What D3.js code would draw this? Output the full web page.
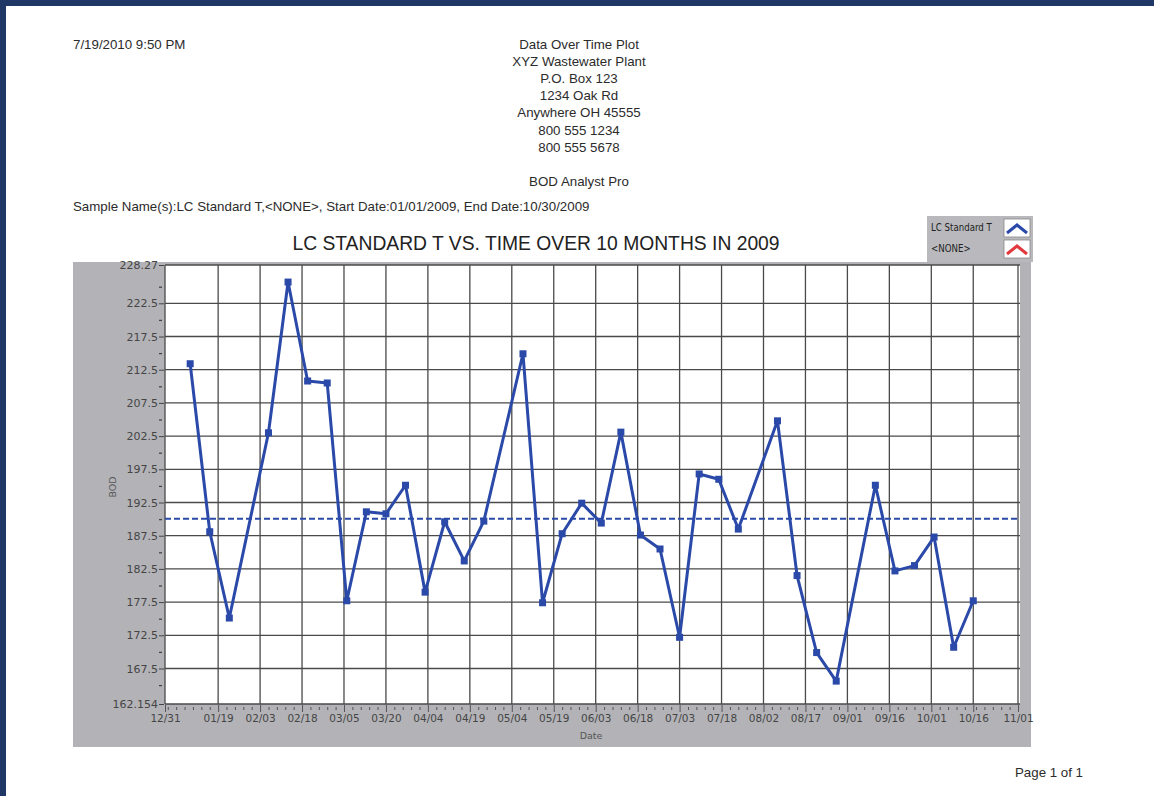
<!DOCTYPE html>
<html lang="en">
  <head>
    <meta charset="utf-8">
    <script src="https://d3js.org/d3.v7.min.js"></script>
    <title>Data Over Time Plot</title>
    <style>
      body {
        margin: 0;
        background-color: #fff;
      }
      svg {
        display: block;
        font-family: "Liberation Sans", Arial, sans-serif;
      }
      .hdr {
        font-size: 13.3px;
        fill: #2b2b2b;
      }
      .grid line {
        stroke: #4a4a4a;
        stroke-width: 1.3;
      }
    </style>
  </head>
  <body>
    <div class="chartHolder"></div>
    <script>
      // sample dates (2009) and BOD readings
      const sampleDates = ['2009-01-09', '2009-01-16', '2009-01-23', '2009-02-06', '2009-02-13', '2009-02-20',
        '2009-02-27', '2009-03-06', '2009-03-13', '2009-03-20', '2009-03-27', '2009-04-03', '2009-04-10',
        '2009-04-17', '2009-04-24', '2009-05-08', '2009-05-15', '2009-05-22', '2009-05-29', '2009-06-05',
        '2009-06-12', '2009-06-19', '2009-06-26', '2009-07-03', '2009-07-10', '2009-07-17', '2009-07-24',
        '2009-08-07', '2009-08-14', '2009-08-21', '2009-08-28', '2009-09-11', '2009-09-18', '2009-09-25',
        '2009-10-02', '2009-10-09', '2009-10-16'];
      const bodValues = [213.4, 188.1, 175.1, 203.0, 225.7, 210.8, 210.5, 177.7, 191.1, 190.8, 195.1, 179.0,
        189.6, 183.7, 189.7, 214.9, 177.4, 187.8, 192.4, 189.4, 203.1, 187.6, 185.5, 172.2, 196.8, 196.0,
        188.5, 204.8, 181.5, 169.9, 165.6, 195.1, 182.2, 183.0, 187.3, 170.7, 177.7];
      const meanValue = 190.05;

      const yDomain = [162.154, 228.27];
      const yMajorTicks = [162.154, 167.5, 172.5, 177.5, 182.5, 187.5, 192.5, 197.5, 202.5, 207.5, 212.5, 217.5, 222.5, 228.27];
      const yMinorTicks = [165, 170, 175, 180, 185, 190, 195, 200, 205, 210, 215, 220, 225];
      const xTicks = ['2008-12-31', '2009-01-19', '2009-02-03', '2009-02-18', '2009-03-05', '2009-03-20',
        '2009-04-04', '2009-04-19', '2009-05-04', '2009-05-19', '2009-06-03', '2009-06-18', '2009-07-03',
        '2009-07-18', '2009-08-02', '2009-08-17', '2009-09-01', '2009-09-16', '2009-10-01', '2009-10-16',
        '2009-11-01'];

      const headerLines = ['Data Over Time Plot', 'XYZ Wastewater Plant', 'P.O. Box 123', '1234 Oak Rd',
        'Anywhere OH 45555', '800 555 1234', '800 555 5678'];
      const legendNames = ['LC Standard T', '<NONE>'];
      const legendColors = ['#2a49a8', '#e0393e'];

      const W = 1154, H = 796;
      const plot = {left: 165, right: 1018, top: 265, bottom: 704};
      const blue = '#2a49a8';
      const tickFont = '"DejaVu Sans", Verdana, sans-serif';

      const parse = d3.utcParse('%Y-%m-%d');
      const data = sampleDates.map((d, i) => ({date: parse(d), value: bodValues[i]}));

      let svg = d3.select('.chartHolder')
        .append('svg')
        .attr('width', W)
        .attr('height', H);

      // page frame
      svg.append('rect').attr('x', 0).attr('y', 0).attr('width', W).attr('height', 6).attr('fill', '#1f3765');
      svg.append('rect').attr('x', 0).attr('y', 0).attr('width', 6).attr('height', H).attr('fill', '#1f3765');

      // header
      svg.append('text').attr('class', 'hdr').attr('x', 73).attr('y', 49).text('7/19/2010 9:50 PM');
      svg.selectAll('.hdr-c')
        .data(headerLines)
        .enter()
        .append('text')
          .attr('class', 'hdr')
          .attr('x', 579)
          .attr('y', (d, i) => 49 + i * 17.1)
          .attr('text-anchor', 'middle')
          .text(d => d);
      svg.append('text').attr('class', 'hdr').attr('x', 579).attr('y', 186)
        .attr('text-anchor', 'middle').text('BOD Analyst Pro');
      svg.append('text').attr('class', 'hdr').attr('x', 73).attr('y', 211)
        .text('Sample Name(s):LC Standard T,<NONE>, Start Date:01/01/2009, End Date:10/30/2009');
      svg.append('text').attr('class', 'hdr').attr('x', 1083).attr('y', 777)
        .attr('text-anchor', 'end').text('Page 1 of 1');

      // grey chart panel
      svg.append('rect')
        .attr('x', 73).attr('y', 262).attr('width', 958).attr('height', 485)
        .attr('fill', '#b3b3b7');
      svg.append('rect')
        .attr('x', plot.left).attr('y', plot.top)
        .attr('width', plot.right - plot.left + 2).attr('height', plot.bottom - plot.top)
        .attr('fill', '#fff');

      svg.append('text')
        .attr('x', 536).attr('y', 250)
        .attr('text-anchor', 'middle')
        .attr('font-size', 19.3)
        .attr('fill', '#222')
        .text('LC STANDARD T VS. TIME OVER 10 MONTHS IN 2009');

      // legend
      let legend = svg.append('g').attr('transform', 'translate(927, 216)');
      legend.append('rect').attr('width', 106).attr('height', 46).attr('fill', '#b9b9bd');
      legendNames.forEach((name, i) => {
        legend.append('text')
          .attr('x', 4).attr('y', 15 + i * 21)
          .attr('font-family', '"Liberation Sans Narrow", "DejaVu Sans Condensed", sans-serif')
          .attr('font-size', 9.6)
          .attr('fill', '#222')
          .text(name);
        legend.append('rect')
          .attr('x', 77).attr('y', 3 + i * 21).attr('width', 26).attr('height', 18)
          .attr('fill', '#fff').attr('stroke', '#888').attr('stroke-width', 0.8);
        legend.append('path')
          .attr('d', `M${80},${17 + i * 21} L${90},${9 + i * 21} L${100},${17 + i * 21}`)
          .attr('fill', 'none')
          .attr('stroke', legendColors[i])
          .attr('stroke-width', 3);
      });

      // scales
      let xScale = d3.scaleUtc()
        .domain([parse(xTicks[0]), parse(xTicks[xTicks.length - 1])])
        .range([plot.left, plot.right]);
      let yScale = d3.scaleLinear()
        .domain(yDomain)
        .range([plot.bottom, plot.top]);

      // grid
      let grid = svg.append('g').attr('class', 'grid');
      grid.selectAll('.gy')
        .data(yMajorTicks)
        .enter()
        .append('line')
          .attr('x1', plot.left).attr('x2', plot.right + 2)
          .attr('y1', d => yScale(d)).attr('y2', d => yScale(d));
      grid.selectAll('.gx')
        .data(xTicks.map(parse))
        .enter()
        .append('line')
          .attr('x1', d => xScale(d)).attr('x2', d => xScale(d))
          .attr('y1', plot.top).attr('y2', plot.bottom);

      // y axis
      let yAxis = d3.axisLeft(yScale)
        .tickValues(yMajorTicks)
        .tickSize(5)
        .tickFormat(d => String(d));
      let gy = svg.append('g')
        .attr('id', 'y-axis')
        .attr('transform', `translate(${plot.left - 1},0)`)
        .attr('font-family', tickFont)
        .attr('font-size', 11)
        .call(yAxis);
      gy.select('.domain').remove();
      gy.selectAll('line').attr('stroke', '#444');
      gy.selectAll('text').attr('x', -6).attr('fill', '#454545')
        .style('font-family', tickFont).style('font-size', '11px');
      let yMinor = d3.axisLeft(yScale).tickValues(yMinorTicks).tickSize(3).tickFormat('');
      let gym = svg.append('g')
        .attr('transform', `translate(${plot.left - 3},0)`)
        .call(yMinor);
      gym.select('.domain').remove();
      gym.selectAll('line').attr('stroke', '#444').attr('stroke-width', 1.3);

      // x axis
      let minorDates = [];
      for (let i = 0; i < xTicks.length - 1; i++) {
        let a = parse(xTicks[i]), b = parse(xTicks[i + 1]);
        let d = d3.utcDay.offset(b, -3);
        while (d > a) {
          minorDates.push(d);
          d = d3.utcDay.offset(d, -3);
        }
      }
      let xAxis = d3.axisBottom(xScale)
        .tickValues(xTicks.map(parse))
        .tickSize(7)
        .tickFormat(d3.utcFormat('%m/%d'));
      let gx = svg.append('g')
        .attr('id', 'x-axis')
        .attr('transform', `translate(0,${plot.bottom + 1})`)
        .call(xAxis);
      gx.select('.domain').remove();
      gx.selectAll('line').attr('stroke', '#555');
      gx.selectAll('text').attr('y', 10).attr('fill', '#454545')
        .style('font-family', tickFont).style('font-size', '10.5px');
      let xMinor = d3.axisBottom(xScale).tickValues(minorDates).tickSize(3).tickFormat('');
      let gxm = svg.append('g')
        .attr('transform', `translate(0,${plot.bottom + 3})`)
        .call(xMinor);
      gxm.select('.domain').remove();
      gxm.selectAll('line').attr('stroke', '#555');

      svg.append('text')
        .attr('x', 591).attr('y', 739)
        .attr('text-anchor', 'middle')
        .attr('fill', '#555')
        .style('font-family', tickFont).style('font-size', '9.5px')
        .text('Date');
      svg.append('text')
        .attr('transform', 'translate(116, 487) rotate(-90)')
        .attr('text-anchor', 'middle')
        .attr('fill', '#555')
        .style('font-family', tickFont).style('font-size', '9.5px')
        .text('BOD');

      // mean line
      svg.append('line')
        .attr('x1', plot.left).attr('x2', plot.right)
        .attr('y1', yScale(meanValue)).attr('y2', yScale(meanValue))
        .attr('stroke', blue)
        .attr('stroke-width', 2)
        .attr('stroke-dasharray', '6,3');

      // series
      let line = d3.line()
        .x(d => xScale(d.date))
        .y(d => yScale(d.value));
      svg.append('path')
        .datum(data)
        .attr('d', line)
        .attr('fill', 'none')
        .attr('stroke', blue)
        .attr('stroke-width', 3)
        .attr('stroke-linejoin', 'round');
      svg.selectAll('.pt')
        .data(data)
        .enter()
        .append('rect')
          .attr('class', 'pt')
          .attr('x', d => xScale(d.date) - 3.5)
          .attr('y', d => yScale(d.value) - 3.5)
          .attr('width', 7)
          .attr('height', 7)
          .attr('fill', blue);
    </script>
  </body>
</html>
